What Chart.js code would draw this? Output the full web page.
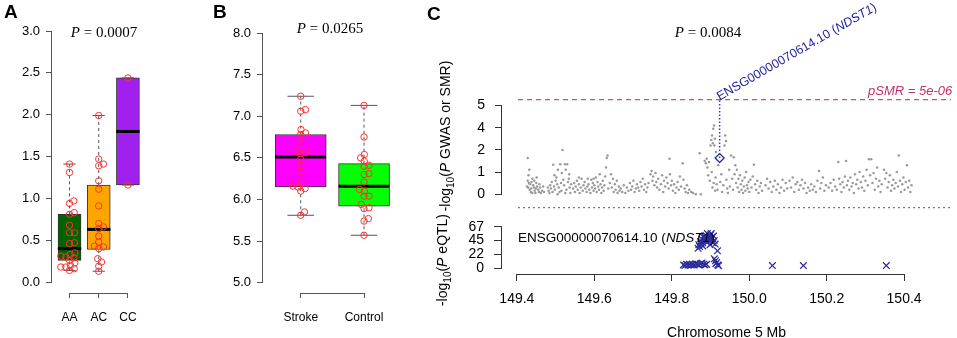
<!DOCTYPE html>
<html>
<head>
<meta charset="utf-8">
<script src="https://cdn.jsdelivr.net/npm/chart.js@4.4.1/dist/chart.umd.min.js"></script>
<style>
  html, body { margin: 0; padding: 0; background: #fff; }
  body { width: 957px; height: 338px; position: relative; overflow: hidden; font-family: 'Liberation Sans', Arial, sans-serif; }
  canvas { position: absolute; }
  .txt { position: absolute; white-space: nowrap; color: #000; line-height: 1; }
  .letter { font-weight: bold; font-size: 19px; }
  .pval { font-family: 'Liberation Serif', 'DejaVu Serif', serif; font-size: 15px; transform: translate(-50%, -50%); }
  .ytitle { font-size: 14px; transform: translate(-50%, -50%) rotate(-90deg); }
  .ytitle sub { font-size: 10px; }
</style>
</head>
<body>
<canvas id="chart-a" width="170" height="338" style="left:0;top:0"></canvas>
<canvas id="chart-b" width="220" height="338" style="left:200px;top:0"></canvas>
<canvas id="chart-c-gwas" width="537" height="215" style="left:420px;top:0"></canvas>
<canvas id="chart-c-eqtl" width="537" height="123" style="left:420px;top:215px"></canvas>

<div class="txt letter" style="left:4px;top:2px">A</div>
<div class="txt letter" style="left:213px;top:2px">B</div>
<div class="txt letter" style="left:427px;top:4px">C</div>
<div class="txt pval" style="left:104px;top:32px"><i>P</i> = 0.0007</div>
<div class="txt pval" style="left:330px;top:28px"><i>P</i> = 0.0265</div>
<div class="txt pval" style="left:708px;top:32px"><i>P</i> = 0.0084</div>
<div class="txt ytitle" style="left:447px;top:136px">-log<sub>10</sub>(<i>P</i> GWAS or SMR)</div>
<div class="txt ytitle" style="left:444px;top:260px">-log<sub>10</sub>(<i>P</i> eQTL)</div>
<div class="txt" style="left:518px;top:238px;transform:translateY(-50%);font-size:13.5px">ENSG00000070614.10 (<i>NDST1</i>)</div>

<script>
/* Panel A: expression by genotype */
const genotypes = ['AA', 'AC', 'CC'];
const genoQ1 = [0.26, 0.39, 1.16];
const genoMedian = [0.40, 0.63, 1.80];
const genoQ3 = [0.81, 1.16, 2.44];
const genoLow = [0.14, 0.13, 1.16];
const genoHigh = [1.41, 1.99, 2.44];
const genoColors = ['#006400', '#FFA500', '#A020F0'];
const aaValues = [1.41, 1.31, 0.97, 0.94, 0.83, 0.81, 0.68, 0.59, 0.59, 0.47, 0.46, 0.35, 0.33, 0.31, 0.30, 0.29, 0.26, 0.23, 0.20, 0.18, 0.18, 0.16, 0.14];
const acValues = [1.99, 1.47, 1.41, 1.39, 1.21, 1.11, 0.91, 0.70, 0.66, 0.64, 0.55, 0.48, 0.43, 0.42, 0.40, 0.28, 0.24, 0.19, 0.13];
const ccValues = [2.44, 1.16];
const aTicks = [0, 0.5, 1, 1.5, 2, 2.5, 3];

/* Panel B: stroke vs control */
const groups = ['Stroke', 'Control'];
const groupQ1 = [6.15, 5.92];
const groupMedian = [6.51, 6.16];
const groupQ3 = [6.78, 6.43];
const groupLow = [5.81, 5.57];
const groupHigh = [7.24, 7.13];
const groupColors = ['#FF00FF', '#00FF00'];
const strokeValues = [7.24, 7.08, 7.06, 6.84, 6.80, 6.78, 6.68, 6.57, 6.56, 6.55, 6.48, 6.41, 6.34, 6.20, 6.16, 6.15, 6.13, 6.10, 5.85, 5.81];
const controlValues = [7.13, 6.75, 6.54, 6.50, 6.46, 6.41, 6.40, 6.31, 6.30, 6.21, 6.12, 6.10, 6.04, 6.04, 5.94, 5.90, 5.89, 5.77, 5.74, 5.57];
const bTicks = [5, 5.5, 6, 6.5, 7, 7.5, 8];

/* Panel C: SMR locus plot (y of GWAS in plot units, labelled 0,1,2,4,5) */
const gwasTickPos = [0, 1, 2, 3, 4];
const gwasTickLabels = ['0', '1', '2', '4', '5'];
const smrThreshold = 4.27;
const gwasFloor = -0.61;
const lineStartMb = 149.403;
const probeMb = 149.9235;
const probeSmr = 1.63;
const probeLabel = [['ENSG00000070614.10 (', false], ['NDST1', true], [')', false]];
const mbTicks = [149.4, 149.6, 149.8, 150.0, 150.2, 150.4];
const eqtlTicks = [0, 22, 45, 67];

const gwasPoints = [
  [149.428,1.63],[149.432,1.10],[149.430,0.85],[149.428,0.60],[149.431,0.50],[149.434,0.45],[149.426,0.35],[149.429,0.30],
  [149.433,0.20],[149.436,0.10],[149.438,0.55],[149.440,0.70],[149.442,0.40],[149.444,0.30],[149.446,0.15],[149.448,0.05],
  [149.440,0.05],[149.445,0.60],[149.450,0.50],[149.452,0.35],[149.455,0.20],[149.457,0.10],[149.451,0.75],[149.458,0.45],
  [149.460,0.30],[149.462,0.05],[149.465,0.15],[149.468,0.35],[149.470,0.10],[149.437,0.25],[149.449,0.25],
  [149.480,0.30],[149.482,0.15],[149.484,0.05],[149.486,0.40],[149.488,0.25],[149.490,0.55],[149.492,0.10],[149.494,1.33],
  [149.496,0.35],[149.498,0.20],[149.500,0.60],[149.502,0.75],[149.504,0.45],[149.506,1.10],[149.508,0.30],[149.510,0.10],
  [149.512,1.35],[149.514,0.50],[149.516,0.95],[149.518,2.00],[149.520,0.65],[149.522,0.40],[149.524,1.35],[149.526,1.10],
  [149.528,0.20],[149.530,1.35],[149.532,0.55],[149.534,0.70],[149.536,0.30],[149.538,0.05],[149.540,0.45],[149.505,0.00],
  [149.515,0.15],[149.525,0.05],[149.497,0.85],[149.535,0.90],
  [149.545,0.25],[149.548,0.50],[149.550,0.10],[149.552,0.35],[149.555,0.60],[149.557,0.20],[149.560,0.45],[149.562,0.05],
  [149.565,0.30],[149.567,0.70],[149.570,0.15],[149.572,0.40],[149.575,0.55],[149.577,0.25],[149.580,0.10],[149.582,0.35],
  [149.585,0.45],[149.587,0.20],[149.590,0.05],[149.592,0.65],[149.594,0.30],[149.596,0.50],[149.598,0.15],[149.600,0.40],
  [149.602,0.25],[149.604,0.75],[149.606,0.10],[149.608,0.55],[149.610,0.35],[149.612,0.20],[149.614,0.90],[149.616,0.45],
  [149.618,0.05],[149.620,0.30],[149.622,0.60],[149.624,0.15],[149.626,0.40],[149.628,0.80],[149.630,1.20],[149.632,1.63],
  [149.634,1.75],[149.636,0.25],[149.560,0.75],[149.583,0.70],[149.598,0.70],
  [149.640,0.50],[149.643,0.90],[149.645,0.30],[149.648,0.70],[149.650,0.10],[149.653,0.45],[149.655,0.20],[149.658,0.60],
  [149.660,0.05],[149.663,0.35],[149.665,0.15],[149.668,0.25],[149.672,0.10],[149.676,0.40],[149.680,0.05],[149.684,0.30],
  [149.688,0.15],[149.692,0.50],[149.695,0.20],[149.698,0.35],[149.701,0.60],[149.704,0.10],[149.707,0.25],[149.710,0.45],
  [149.713,0.30],[149.716,0.15],[149.719,0.55],[149.722,0.35],[149.725,0.70],[149.728,0.20],[149.731,0.45],[149.734,0.10],
  [149.737,0.30],[149.740,0.50],
  [149.745,0.90],[149.748,1.05],[149.750,0.60],[149.752,0.80],[149.755,0.40],[149.758,0.95],[149.760,0.55],[149.762,0.30],
  [149.765,0.70],[149.768,0.20],[149.794,1.60],[149.772,0.45],[149.775,0.85],[149.778,0.10],[149.780,0.60],[149.783,0.35],
  [149.786,0.75],[149.789,0.50],[149.792,0.25],[149.795,0.90],[149.798,0.40],[149.800,0.60],[149.803,0.15],[149.806,0.45],
  [149.809,0.05],[149.812,0.30],[149.815,0.55],[149.818,0.20],[149.821,0.80],[149.824,0.35],[149.828,1.40],[149.830,0.65],
  [149.833,0.25],[149.836,0.10],[149.839,0.40],[149.842,0.05],[149.845,0.20],[149.850,0.10],[149.855,0.05],[149.862,0.00],
  [149.872,1.85],[149.875,0.00],[149.885,1.50],[149.888,1.40],[149.890,1.60],[149.892,1.20],[149.894,0.85],[149.896,1.45],
  [149.898,0.60],[149.900,2.20],[149.902,2.45],[149.903,1.00],[149.904,2.65],[149.905,0.30],[149.906,2.30],[149.907,2.95],
  [149.908,0.50],[149.909,3.10],[149.910,2.20],[149.911,2.50],[149.912,0.15],[149.913,0.75],[149.914,1.90],[149.916,0.45],
  [149.918,0.20],[149.920,1.30],[149.925,0.55],[149.928,0.90],[149.930,0.10],[149.933,0.40],[149.936,2.20],[149.938,2.65],
  [149.940,2.40],[149.941,0.65],[149.943,0.25],[149.945,0.05],[149.948,1.10],[149.950,0.35],[149.953,1.75],[149.956,0.70],
  [149.958,0.20],
  [149.960,1.67],[149.962,0.90],[149.964,1.30],[149.966,0.50],[149.968,1.10],[149.970,0.30],[149.972,0.70],[149.974,0.10],
  [149.976,0.85],[149.978,0.45],[149.980,0.20],[149.982,0.60],[149.984,0.05],[149.986,0.35],[149.988,0.75],[149.990,0.15],
  [149.992,1.00],[149.994,0.40],[149.996,0.25],[149.998,0.55],[150.000,0.10],[150.003,0.65],[150.006,0.30],[150.009,0.80],
  [150.012,1.33],[150.015,0.45],[150.018,0.20],[150.021,0.60],[150.024,0.05],[150.027,0.35],[150.030,0.50],[150.033,0.15],
  [150.042,0.40],[150.046,0.70],[150.050,0.25],[150.054,0.55],[150.058,0.10],[150.062,0.35],[150.066,0.60],[150.070,0.20],
  [150.074,0.45],[150.078,0.05],[150.082,0.30],[150.086,0.65],[150.090,0.15],[150.094,0.50],[150.098,0.25],
  [150.104,0.60],[150.108,0.30],[150.112,0.75],[150.116,0.10],[150.120,0.45],[150.124,0.55],[150.128,0.20],[150.132,0.40],
  [150.136,0.65],[150.140,0.25],[150.144,0.50],[150.148,0.05],[150.152,0.30],[150.156,0.15],[150.160,0.45],[150.164,0.20],
  [150.168,0.35],[150.172,0.10],[150.176,0.60],[150.180,1.05],[150.183,0.25],[150.186,0.50],[150.190,0.75],[150.194,0.15],
  [150.198,0.40],
  [150.205,0.30],[150.210,0.50],[150.214,0.15],[150.218,0.65],[150.222,0.35],[150.226,0.20],[150.230,1.45],[150.232,0.70],
  [150.235,0.45],[150.238,0.10],[150.241,0.55],[150.244,0.30],[150.247,0.80],[150.250,1.50],[150.252,0.40],[150.255,0.60],
  [150.258,0.20],[150.261,0.75],[150.264,0.35],[150.267,0.50],[150.270,0.05],[150.273,0.90],[150.276,0.45],[150.279,0.65],
  [150.282,0.25],[150.285,1.00],[150.288,0.55],[150.291,0.30],[150.294,0.80],[150.297,0.15],
  [150.300,0.60],[150.303,1.10],[150.306,0.40],[150.309,1.58],[150.312,0.85],[150.315,1.58],[150.318,0.50],[150.321,0.95],
  [150.324,0.20],[150.327,0.70],[150.330,1.20],[150.333,0.35],[150.336,0.60],[150.339,0.10],[150.342,0.45],[150.348,1.10],
  [150.351,0.70],[150.354,0.95],[150.357,0.30],[150.360,0.55],[150.363,0.85],[150.366,0.15],[150.369,0.40],[150.372,0.65],
  [150.375,0.25],[150.378,0.50],[150.381,1.00],[150.384,0.35],[150.386,1.75],[150.389,0.60],[150.392,0.10],[150.395,0.45],
  [150.398,0.75],[150.401,0.20],[150.404,0.55],[150.407,1.30],[150.410,0.30],[150.413,0.60],[150.416,0.10],[150.419,0.40]
];

const eqtlPoints = [
  [149.830,5],[149.834,4],[149.838,6],[149.842,5],[149.846,6],[149.850,5],[149.854,6],[149.858,5],
  [149.862,7],[149.866,6],[149.870,5],[149.874,7],[149.878,8],[149.882,6],[149.886,5],[149.890,6],
  [149.868,32],[149.870,38],[149.872,35],[149.874,43],[149.876,39],[149.878,47],[149.880,41],[149.882,50],
  [149.884,45],[149.886,49],[149.888,53],[149.890,42],[149.892,56],[149.893,47],[149.895,44],[149.897,51],
  [149.899,38],[149.900,54],[149.902,46],[149.904,50],[149.906,41],[149.908,52],[149.910,45],[149.912,39],
  [149.880,36],[149.888,45],[149.896,48],[149.884,52],[149.902,56],
  [149.918,28],[149.910,15],[149.913,12],[149.916,9],[149.919,5],[149.914,7],[149.921,4],
  [150.060,4],[150.140,4],[150.354,4]
];

Chart.defaults.font.family = "'Liberation Sans', Arial, sans-serif";
Chart.defaults.color = '#000';
Chart.defaults.animation = false;
Chart.defaults.plugins.legend.display = false;
Chart.defaults.plugins.tooltip.enabled = false;

// R-style axis line: only spans from the first to the last tick
const rAxisLines = {
    id: 'rAxisLines',
    afterDraw(chart, args, opts) {
        const ctx = chart.ctx;
        ctx.save();
        ctx.strokeStyle = opts.color || '#555';
        ctx.lineWidth = 1;
        (opts.axes || []).forEach(id => {
            const s = chart.scales[id];
            const first = s.getPixelForValue(s.ticks[0].value);
            const last = s.getPixelForValue(s.ticks[s.ticks.length - 1].value);
            ctx.beginPath();
            if (s.isHorizontal()) {
                const y = Math.round(chart.chartArea.bottom) + 0.5;
                ctx.moveTo(first, y);
                ctx.lineTo(last, y);
            } else {
                const x = Math.round(chart.chartArea.left) - 0.5;
                ctx.moveTo(x, first);
                ctx.lineTo(x, last);
            }
            ctx.stroke();
        });
        ctx.restore();
    }
};

// fixed scale size; label overflow must not move the plot area
const fixSize = (w, h) => s => {
    if (w !== null) s.width = w;
    if (h !== null) s.height = h;
    s.paddingTop = 0;
    s.paddingBottom = 0;
    s.paddingLeft = 0;
    s.paddingRight = 0;
};

// beeswarm offsets (pixels -> category units), points placed bottom-up
function swarm(values, pxPerUnit, pxPerCat, diameter) {
    const idx = values.map((v, i) => i).sort((a, b) => values[a] - values[b]);
    const placed = [];
    const offsets = new Array(values.length).fill(0);
    idx.forEach(i => {
        const y = values[i] * pxPerUnit;
        const cands = [0];
        placed.forEach(p => {
            const dy = Math.abs(p.y - y);
            if (dy < diameter) {
                const dx = Math.sqrt(diameter * diameter - dy * dy);
                cands.push(p.x + dx, p.x - dx);
            }
        });
        cands.sort((a, b) => Math.abs(a) - Math.abs(b));
        const x = cands.find(cx => placed.every(p => (p.x - cx) ** 2 + (p.y - y) ** 2 >= diameter * diameter - 0.01));
        placed.push({ x: x, y: y });
        offsets[i] = x / pxPerCat;
    });
    return offsets;
}

function boxChart(id, cats, q1, med, q3, lo, hi, colors, samples, f) {
    const pxPerUnit = (f.bottom - f.top) / (f.yMax - f.yMin);
    const pxPerCat = (f.right - f.left) / (f.xMax - f.xMin);
    const datasets = [{
        type: 'bar',
        data: q1.map((v, i) => ({ x: i + 1, y: [v, q3[i]] })),
        backgroundColor: colors,
        borderColor: '#333',
        borderWidth: 1,
        borderSkipped: false,
        barThickness: Math.round(0.8 * pxPerCat),
        order: 3
    }];
    const seg = (pts, extra) => datasets.push(Object.assign({
        type: 'line', data: pts, borderColor: '#555', borderWidth: 1, pointRadius: 0, fill: false, order: 2
    }, extra));
    q1.forEach((_, i) => {
        const c = i + 1;
        seg([{ x: c, y: q3[i] }, { x: c, y: hi[i] }], { borderDash: [3, 3] });
        seg([{ x: c, y: lo[i] }, { x: c, y: q1[i] }], { borderDash: [3, 3] });
        seg([{ x: c - 0.21, y: hi[i] }, { x: c + 0.21, y: hi[i] }]);
        seg([{ x: c - 0.21, y: lo[i] }, { x: c + 0.21, y: lo[i] }]);
        seg([{ x: c - 0.4, y: med[i] }, { x: c + 0.4, y: med[i] }], { borderColor: '#000', borderWidth: 3, order: 1 });
    });
    samples.forEach((vals, i) => {
        const offs = swarm(vals, pxPerUnit, pxPerCat, 5);
        datasets.push({
            type: 'scatter',
            data: vals.map((v, k) => ({ x: i + 1 + offs[k], y: v })),
            pointStyle: 'circle',
            pointRadius: 3.2,
            pointBorderColor: '#ff3030',
            pointBackgroundColor: 'rgba(0,0,0,0)',
            pointBorderWidth: 1,
            order: 0
        });
    });
    return new Chart(document.getElementById(id), {
        type: 'bar',
        data: { datasets: datasets },
        options: {
            responsive: false,
            layout: { padding: { left: 0, top: f.top, right: f.canvasW - f.right, bottom: 0 } },
            scales: {
                x: {
                    type: 'linear', min: f.xMin, max: f.xMax, offset: false,
                    afterFit: fixSize(null, f.canvasH - f.bottom),
                    afterBuildTicks: s => { s.ticks = cats.map((c, i) => ({ value: i + 1 })); },
                    ticks: { callback: v => cats[Math.round(v) - 1], autoSkip: false, maxRotation: 0, padding: 12, font: { size: 12 } },
                    grid: { display: true, drawOnChartArea: false, tickLength: 5, color: '#555', offset: false },
                    border: { display: false }
                },
                y: {
                    type: 'linear', min: f.yMin, max: f.yMax,
                    afterFit: fixSize(f.left, null),
                    afterBuildTicks: s => { s.ticks = f.yTicks.map(v => ({ value: v })); },
                    ticks: { callback: v => v.toFixed(1), autoSkip: false, padding: 6, font: { size: 13 } },
                    grid: { display: true, drawOnChartArea: false, tickLength: 6, color: '#555' },
                    border: { display: false }
                }
            },
            plugins: { rAxisLines: { axes: ['x', 'y'], color: '#555' } }
        },
        plugins: [rAxisLines]
    });
}

boxChart('chart-a', genotypes, genoQ1, genoMedian, genoQ3, genoLow, genoHigh, genoColors,
    [aaValues, acValues, ccValues],
    { canvasW: 170, canvasH: 338, left: 52, right: 150, top: 31, bottom: 293,
      yMin: -0.13, yMax: 3.0, xMin: 0.40, xMax: 3.756, yTicks: aTicks });

boxChart('chart-b', groups, groupQ1, groupMedian, groupQ3, groupLow, groupHigh, groupColors,
    [strokeValues, controlValues],
    { canvasW: 220, canvasH: 338, left: 63, right: 210, top: 33, bottom: 293,
      yMin: 4.876, yMax: 8.0, xMin: 0.404, xMax: 2.726, yTicks: bTicks });

// C: probe label along a 30 degree slant and the SMR threshold label
const smrLabels = {
    id: 'smrLabels',
    afterDatasetsDraw(chart) {
        const { ctx, chartArea } = chart;
        const px = chart.scales.x.getPixelForValue(probeMb);
        const py = chart.scales.y.getPixelForValue(smrThreshold);
        ctx.save();
        ctx.fillStyle = '#1c1c9c';
        ctx.translate(px, py + 1);
        ctx.rotate(-Math.PI / 6);
        ctx.textBaseline = 'alphabetic';
        let cx = 0;
        probeLabel.forEach(([t, italic]) => {
            ctx.font = (italic ? 'italic ' : '') + "12.5px 'Liberation Sans', Arial, sans-serif";
            ctx.fillText(t, cx, 0);
            cx += ctx.measureText(t).width;
        });
        ctx.restore();
        ctx.save();
        ctx.font = "italic 13px 'Liberation Sans', Arial, sans-serif";
        ctx.fillStyle = '#c0306a';
        ctx.textAlign = 'right';
        ctx.textBaseline = 'alphabetic';
        ctx.fillText('pSMR = 5e-06', chartArea.right + 1, py - 4.5);
        ctx.restore();
    }
};

const xMinMb = 149.3616, xMaxMb = 150.5214;

new Chart(document.getElementById('chart-c-gwas'), {
    type: 'scatter',
    data: {
        datasets: [{
            data: gwasPoints.map(([x, y]) => ({ x, y })),
            pointRadius: 1.25,
            pointBackgroundColor: '#9a9a9a',
            pointBorderWidth: 0,
            order: 3
        }, {
            type: 'line',
            data: [{ x: lineStartMb, y: smrThreshold }, { x: xMaxMb, y: smrThreshold }],
            borderColor: '#c8507a', borderDash: [5, 4], borderWidth: 1.3, pointRadius: 0, order: 2
        }, {
            type: 'line',
            data: [{ x: lineStartMb, y: gwasFloor }, { x: xMaxMb, y: gwasFloor }],
            borderColor: '#777', borderDash: [2, 3], borderWidth: 1.2, pointRadius: 0, order: 2
        }, {
            type: 'line',
            data: [{ x: probeMb, y: probeSmr }, { x: probeMb, y: smrThreshold }],
            borderColor: '#3a3ab8', borderDash: [1.5, 2], borderWidth: 1.5, pointRadius: 0, order: 1
        }, {
            data: [{ x: probeMb, y: probeSmr }],
            pointStyle: 'rectRot', pointRadius: 4.5,
            pointBorderColor: '#2a2aa8', pointBackgroundColor: 'rgba(0,0,0,0)', pointBorderWidth: 1.3,
            order: 0
        }]
    },
    options: {
        responsive: false,
        layout: { padding: { left: 0, top: 40, right: 5, bottom: 3 } },
        scales: {
            x: { type: 'linear', min: xMinMb, max: xMaxMb, display: false },
            y: {
                type: 'linear', min: -0.68, max: 6.964,
                afterFit: fixSize(82, null),
                afterBuildTicks: s => { s.ticks = gwasTickPos.map(v => ({ value: v })); },
                ticks: { callback: (v, i) => gwasTickLabels[i], autoSkip: false, padding: 10, font: { size: 14 } },
                grid: { display: true, drawOnChartArea: false, tickLength: 7, color: '#333' },
                border: { display: false }
            }
        },
        plugins: { rAxisLines: { axes: ['y'], color: '#333' } }
    },
    plugins: [rAxisLines, smrLabels]
});

new Chart(document.getElementById('chart-c-eqtl'), {
    type: 'scatter',
    data: {
        datasets: [{
            data: eqtlPoints.map(([x, y]) => ({ x, y })),
            pointStyle: 'crossRot', pointRadius: 4.7,
            pointBorderColor: '#2b2b9b', pointBorderWidth: 1.2
        }]
    },
    options: {
        responsive: false,
        layout: { padding: { left: 0, top: 3, right: 5, bottom: 0 } },
        scales: {
            x: {
                type: 'linear', min: xMinMb, max: xMaxMb,
                afterFit: fixSize(null, 64),
                afterBuildTicks: s => { s.ticks = mbTicks.map(v => ({ value: v })); },
                ticks: { callback: v => v.toFixed(1), autoSkip: false, maxRotation: 0, padding: 10, font: { size: 14 } },
                grid: { display: true, drawOnChartArea: false, tickLength: 7, color: '#333' },
                border: { display: false },
                title: { display: true, text: 'Chromosome 5 Mb', font: { size: 14, lineHeight: 0.7 }, padding: 0 }
            },
            y: {
                type: 'linear', min: -9.73, max: 76.7,
                afterFit: fixSize(82, null),
                afterBuildTicks: s => { s.ticks = eqtlTicks.map(v => ({ value: v })); },
                ticks: { autoSkip: false, padding: 10, font: { size: 14 } },
                grid: { display: true, drawOnChartArea: false, tickLength: 8, color: '#333' },
                border: { display: false }
            }
        },
        plugins: { rAxisLines: { axes: ['x', 'y'], color: '#333' } }
    },
    plugins: [rAxisLines]
});
</script>
</body>
</html>
